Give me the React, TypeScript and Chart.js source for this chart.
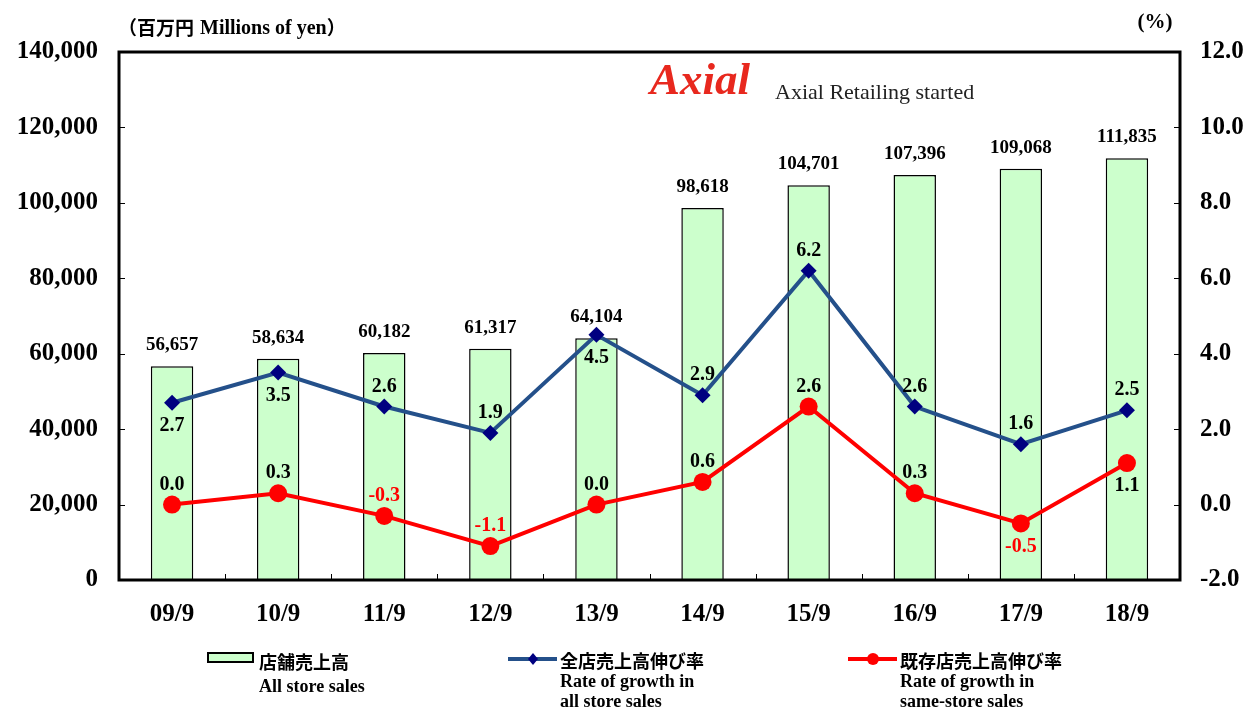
import React, { useEffect, useRef } from "react";
import { Chart, registerables } from "chart.js";
Chart.register(...registerables);

const categories = ["09/9", "10/9", "11/9", "12/9", "13/9", "14/9", "15/9", "16/9", "17/9", "18/9"];
const storeSales = [56657, 58634, 60182, 61317, 64104, 98618, 104701, 107396, 109068, 111835];
const allStoreGrowth = [2.7, 3.5, 2.6, 1.9, 4.5, 2.9, 6.2, 2.6, 1.6, 2.5];
const sameStoreGrowth = [0.0, 0.3, -0.3, -1.1, 0.0, 0.6, 2.6, 0.3, -0.5, 1.1];
// label placement: 1 = above, -1 = below
const allLabelPos = [-1, -1, 1, 1, -1, 1, 1, 1, 1, 1];
const sameLabelPos = [1, 1, 1, 1, 1, 1, 1, 1, -1, -1];

const SERIF = '"Liberation Serif", "DejaVu Serif", serif';
const CJK = '"Noto Sans CJK JP", sans-serif';

const fmt = (v: number) => v.toLocaleString("en-US");

const decorPlugin = {
  id: "decor",
  afterDatasetsDraw(chart: any) {
    const ctx = chart.ctx;
    ctx.save();
    const barMeta = chart.getDatasetMeta(0);
    ctx.font = `bold 19px ${SERIF}`;
    ctx.fillStyle = "#000";
    ctx.textAlign = "center";
    ctx.textBaseline = "middle";
    barMeta.data.forEach((el: any, i: number) => {
      ctx.fillText(fmt(storeSales[i]), el.x, el.y - 21);
    });
    ctx.font = `bold 20px ${SERIF}`;
    const allMeta = chart.getDatasetMeta(1);
    allMeta.data.forEach((el: any, i: number) => {
      ctx.fillStyle = "#000";
      const dy = allLabelPos[i] > 0 ? -20 : 23;
      ctx.fillText(allStoreGrowth[i].toFixed(1), el.x, el.y + dy);
    });
    const sameMeta = chart.getDatasetMeta(2);
    sameMeta.data.forEach((el: any, i: number) => {
      ctx.fillStyle = sameStoreGrowth[i] < 0 ? "#FF0000" : "#000";
      const dy = sameLabelPos[i] > 0 ? -20 : 23;
      ctx.fillText(sameStoreGrowth[i].toFixed(1), el.x, el.y + dy);
    });
    ctx.restore();
  },
  afterDraw(chart: any) {
    const ctx = chart.ctx;
    const a = chart.chartArea;
    ctx.save();
    ctx.strokeStyle = "#000";
    ctx.lineWidth = 1;
    const y = chart.scales.y;
    y.ticks.forEach((t: any) => {
      const py = Math.round(y.getPixelForValue(t.value)) + 0.5;
      ctx.beginPath();
      ctx.moveTo(a.left, py);
      ctx.lineTo(a.left + 6, py);
      ctx.stroke();
    });
    const y1 = chart.scales.y1;
    y1.ticks.forEach((t: any) => {
      const py = Math.round(y1.getPixelForValue(t.value)) + 0.5;
      ctx.beginPath();
      ctx.moveTo(a.right, py);
      ctx.lineTo(a.right - 6, py);
      ctx.stroke();
    });
    const step = (a.right - a.left) / categories.length;
    for (let i = 1; i < categories.length; i++) {
      const px = Math.round(a.left + step * i) + 0.5;
      ctx.beginPath();
      ctx.moveTo(px, a.bottom);
      ctx.lineTo(px, a.bottom - 6);
      ctx.stroke();
    }
    ctx.lineWidth = 3;
    ctx.strokeRect(a.left, a.top, a.right - a.left, a.bottom - a.top);

    // axis titles
    ctx.fillStyle = "#000";
    ctx.textBaseline = "middle";
    ctx.textAlign = "left";
    let tx = 118;
    ctx.font = `bold 19px ${CJK}`;
    ctx.fillText("（百万円", tx, 28);
    tx += ctx.measureText("（百万円").width + 6;
    ctx.font = `bold 20px ${SERIF}`;
    ctx.fillText("Millions of yen", tx, 29);
    tx += ctx.measureText("Millions of yen").width;
    ctx.font = `bold 19px ${CJK}`;
    ctx.fillText("）", tx, 28);

    ctx.font = `bold 21px ${SERIF}`;
    ctx.textAlign = "center";
    ctx.fillText("(%)", 1155, 23);

    // logo
    ctx.textAlign = "left";
    ctx.fillStyle = "#E8281E";
    ctx.font = `italic bold 45px ${SERIF}`;
    ctx.fillText("Axial", 650, 82);
    ctx.fillStyle = "#222";
    ctx.font = `22px ${SERIF}`;
    ctx.fillText("Axial Retailing started", 775, 93);

    // legend: bars
    ctx.fillStyle = "#CCFFCC";
    ctx.fillRect(208, 653, 45, 9);
    ctx.strokeStyle = "#000";
    ctx.lineWidth = 2;
    ctx.strokeRect(208, 653, 45, 9);
    ctx.fillStyle = "#000";
    ctx.font = `bold 18px ${CJK}`;
    ctx.fillText("店舗売上高", 259, 662);
    ctx.font = `bold 18px ${SERIF}`;
    ctx.fillText("All store sales", 259, 687);

    // blue legend
    ctx.strokeStyle = "#24508A";
    ctx.lineWidth = 4;
    ctx.beginPath();
    ctx.moveTo(508, 659);
    ctx.lineTo(557, 659);
    ctx.stroke();
    ctx.fillStyle = "#000080";
    ctx.beginPath();
    ctx.moveTo(533, 653);
    ctx.lineTo(538, 659);
    ctx.lineTo(533, 665);
    ctx.lineTo(528, 659);
    ctx.closePath();
    ctx.fill();
    ctx.fillStyle = "#000";
    ctx.font = `bold 18px ${CJK}`;
    ctx.fillText("全店売上高伸び率", 560, 661);
    ctx.font = `bold 18px ${SERIF}`;
    ctx.fillText("Rate of growth in", 560, 682);
    ctx.fillText("all store sales", 560, 702);

    // red legend
    ctx.strokeStyle = "#FF0000";
    ctx.lineWidth = 4;
    ctx.beginPath();
    ctx.moveTo(848, 659);
    ctx.lineTo(897, 659);
    ctx.stroke();
    ctx.fillStyle = "#FF0000";
    ctx.beginPath();
    ctx.arc(873, 659, 6, 0, Math.PI * 2);
    ctx.fill();
    ctx.fillStyle = "#000";
    ctx.font = `bold 18px ${CJK}`;
    ctx.fillText("既存店売上高伸び率", 900, 661);
    ctx.font = `bold 18px ${SERIF}`;
    ctx.fillText("Rate of growth in", 900, 682);
    ctx.fillText("same-store sales", 900, 702);
    ctx.restore();
  },
};

export default function App() {
  const ref = useRef<HTMLCanvasElement>(null);
  useEffect(() => {
    if (!ref.current) return;
    const tickFont = { family: SERIF, size: 25, weight: "bold" };
    const chart = new Chart(ref.current, {
      type: "bar",
      data: {
        labels: categories,
        datasets: [
          {
            type: "bar",
            label: "店舗売上高",
            data: storeSales,
            backgroundColor: "#CCFFCC",
            borderColor: "#000",
            borderWidth: 1.5,
            barPercentage: 0.4,
            categoryPercentage: 1,
            yAxisID: "y",
            order: 3,
          },
          {
            type: "line",
            label: "全店売上高伸び率",
            data: allStoreGrowth,
            borderColor: "#24508A",
            borderWidth: 4,
            pointStyle: "rectRot",
            pointRadius: 8,
            pointBackgroundColor: "#000080",
            pointBorderColor: "#000080",
            pointBorderWidth: 0,
            yAxisID: "y1",
            order: 2,
          } as any,
          {
            type: "line",
            label: "既存店売上高伸び率",
            data: sameStoreGrowth,
            borderColor: "#FF0000",
            borderWidth: 4,
            pointStyle: "circle",
            pointRadius: 9,
            pointBackgroundColor: "#FF0000",
            pointBorderColor: "#FF0000",
            pointBorderWidth: 0,
            yAxisID: "y1",
            order: 1,
          } as any,
        ],
      },
      options: {
        responsive: false,
        animation: false,
        layout: { padding: { top: 52, left: 0, right: 0, bottom: 0 } },
        plugins: { legend: { display: false }, tooltip: { enabled: false }, title: { display: false } },
        scales: {
          x: {
            offset: true,
            grid: { display: false, drawTicks: false },
            border: { display: false },
            ticks: { font: tickFont, color: "#000", padding: 20 },
            afterFit: (s: any) => { s.height = 129; },
          },
          y: {
            position: "left",
            min: 0,
            max: 140000,
            grid: { display: false, drawTicks: false },
            border: { display: false },
            ticks: {
              stepSize: 20000,
              callback: (v: any) => fmt(Number(v)),
              font: tickFont,
              color: "#000",
              padding: 21,
            },
            afterFit: (s: any) => { s.width = 119; },
          },
          y1: {
            position: "right",
            min: -2,
            max: 12,
            grid: { display: false, drawTicks: false },
            border: { display: false },
            ticks: {
              stepSize: 2,
              callback: (v: any) => Number(v).toFixed(1),
              font: tickFont,
              color: "#000",
              padding: 20,
            },
            afterFit: (s: any) => { s.width = 71; },
          },
        },
      } as any,
      plugins: [decorPlugin],
    });
    return () => chart.destroy();
  }, []);
  return (
    <div style={{ position: "fixed", left: 0, top: 0, width: 1251, height: 709, background: "#fff" }}>
      <canvas ref={ref} width={1251} height={709} style={{ display: "block" }} />
    </div>
  );
}
